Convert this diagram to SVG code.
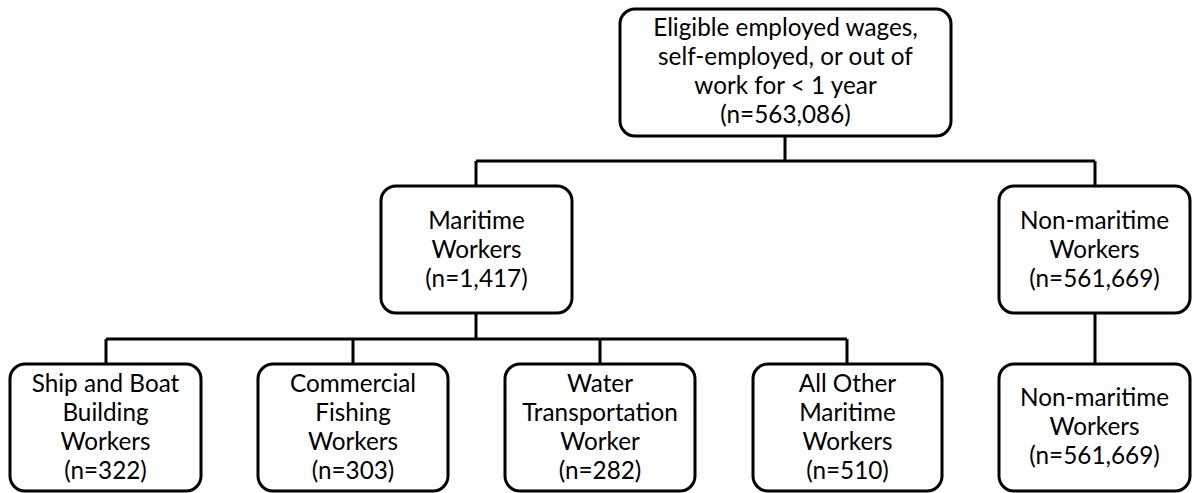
<svg xmlns="http://www.w3.org/2000/svg" width="1194" height="493" viewBox="0 0 1194 493">
<style>
.box{fill:#fff;stroke:#000;stroke-width:3}
.t{font-family:Lato,"Liberation Sans",sans-serif;font-size:24.3px;fill:#000;text-anchor:middle}
.c{fill:none;stroke:#000;stroke-width:3}
</style>
<rect width="1194" height="493" fill="#fff"/>
<g id="connectors">
<path class="c" d="M785 136V161M476 161H1095M476 161V186M1095 161V186"/>
<path class="c" d="M476 313V339M106 339H847M106 339V364M353 339V364M600 339V364M847 339V364"/>
<path class="c" d="M1095 313V364"/>
</g>
<g id="n0">
<rect class="box" x="620" y="9" width="331" height="127" rx="15"/>
<text class="t" x="785.5" y="36">Eligible employed wages,</text>
<text class="t" x="785.5" y="65">self-employed, or out of</text>
<text class="t" x="785.5" y="94">work for &lt; 1 year</text>
<text class="t" x="785.5" y="123">(n=563,086)</text>
</g>
<g id="n1">
<rect class="box" x="381" y="186" width="191" height="127" rx="15"/>
<text class="t" x="476.5" y="229">Maritime</text>
<text class="t" x="476.5" y="258">Workers</text>
<text class="t" x="476.5" y="287">(n=1,417)</text>
</g>
<g id="n2">
<rect class="box" x="999" y="186" width="191" height="127" rx="15"/>
<text class="t" x="1094.5" y="229">Non-maritime</text>
<text class="t" x="1094.5" y="258">Workers</text>
<text class="t" x="1094.5" y="287">(n=561,669)</text>
</g>
<g id="n3">
<rect class="box" x="10" y="364" width="191" height="127" rx="15"/>
<text class="t" x="105.5" y="392">Ship and Boat</text>
<text class="t" x="105.5" y="421">Building</text>
<text class="t" x="105.5" y="450">Workers</text>
<text class="t" x="105.5" y="479">(n=322)</text>
</g>
<g id="n4">
<rect class="box" x="258" y="364" width="190" height="127" rx="15"/>
<text class="t" x="353" y="392">Commercial</text>
<text class="t" x="353" y="421">Fishing</text>
<text class="t" x="353" y="450">Workers</text>
<text class="t" x="353" y="479">(n=303)</text>
</g>
<g id="n5">
<rect class="box" x="505" y="364" width="190" height="127" rx="15"/>
<text class="t" x="600" y="392">Water</text>
<text class="t" x="600" y="421">Transportation</text>
<text class="t" x="600" y="450">Worker</text>
<text class="t" x="600" y="479">(n=282)</text>
</g>
<g id="n6">
<rect class="box" x="753" y="364" width="189" height="127" rx="15"/>
<text class="t" x="847.5" y="392">All Other</text>
<text class="t" x="847.5" y="421">Maritime</text>
<text class="t" x="847.5" y="450">Workers</text>
<text class="t" x="847.5" y="479">(n=510)</text>
</g>
<g id="n7">
<rect class="box" x="999" y="364" width="191" height="127" rx="15"/>
<text class="t" x="1094.5" y="406">Non-maritime</text>
<text class="t" x="1094.5" y="435">Workers</text>
<text class="t" x="1094.5" y="464">(n=561,669)</text>
</g>
</svg>
